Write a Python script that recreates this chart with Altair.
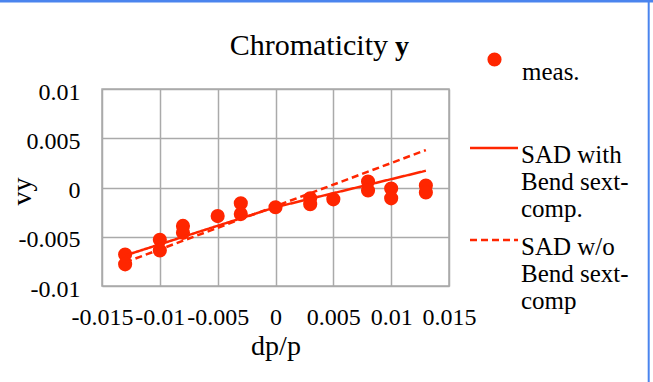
import altair as alt
import pandas as pd

# Measured vertical chromaticity vs momentum deviation
dp_meas = [-0.013, -0.013, -0.010, -0.010, -0.008, -0.008, -0.005, -0.003, -0.003,
           0.000, 0.003, 0.003, 0.005, 0.008, 0.008, 0.010, 0.010, 0.013, 0.013]
vy_meas = [-0.0068, -0.0078, -0.0053, -0.0064, -0.0039, -0.0046, -0.0029, -0.0016, -0.0027,
           -0.0020, -0.0011, -0.0017, -0.0012, 0.0006, -0.0003, -0.0001, -0.0011, 0.0002, -0.0005]

# SAD model curves
sad_with_dp = [-0.013, 0.000, 0.013]
sad_with_vy = [-0.0069, -0.0020, 0.0017]
sad_wo_dp = [-0.013, 0.013]
sad_wo_vy = [-0.0076, 0.0038]

x_ticks = [-0.015, -0.01, -0.005, 0, 0.005, 0.01, 0.015]
y_ticks = [-0.01, -0.005, 0, 0.005, 0.01]

MEAS = "meas."
WITH = "SAD with|Bend sext-|comp."
WO = "SAD w/o|Bend sext-|comp"

RED = "#ff2600"
GRID = "#aaaaaa"
FRAME = "#4a84ee"
FONT = "Liberation Serif"
W, H = 347, 197
PAD_L, PAD_T = 102, 89

meas = pd.DataFrame({"dp": dp_meas, "vy": vy_meas, "kind": [MEAS] * len(dp_meas)})
sad = pd.DataFrame({
    "dp": sad_with_dp + sad_wo_dp,
    "vy": sad_with_vy + sad_wo_vy,
    "model": [WITH] * len(sad_with_dp) + [WO] * len(sad_wo_dp),
})

tick_label = "toString(round(datum.value * 1000) / 1000)"

x_enc = alt.X(
    "dp:Q",
    scale=alt.Scale(domain=[-0.015, 0.015], nice=False, zero=False),
    axis=alt.Axis(
        values=x_ticks, labelExpr=tick_label, title="dp/p",
        labelFont=FONT, labelFontSize=24, labelColor="black", labelPadding=19,
        labelBaseline="top", labelOverlap=False, labelFlush=False,
        ticks=False, tickSize=0, domain=False,
        grid=True, gridColor=GRID, gridWidth=1.5, gridOpacity=1,
        titleFont=FONT, titleFontSize=28, titleFontWeight="normal", titleColor="black",
        titleBaseline="alphabetic", titleX=W / 2, titleY=68, titleAnchor="middle",
    ),
)
y_enc = alt.Y(
    "vy:Q",
    scale=alt.Scale(domain=[-0.01, 0.01], nice=False, zero=False),
    axis=alt.Axis(
        values=y_ticks, labelExpr=tick_label, title="vy",
        labelFont=FONT, labelFontSize=24, labelColor="black", labelPadding=22,
        labelOffset=3, labelOverlap=False, labelFlush=False,
        ticks=False, tickSize=0, domain=False,
        grid=True, gridColor=GRID, gridWidth=1.5, gridOpacity=1,
        titleFont=FONT, titleFontSize=28, titleFontWeight="normal", titleColor="black",
        titleAngle=-90, titleAlign="center", titleBaseline="middle",
        titleX=-80, titleY=102,
    ),
)

points = alt.Chart(meas).mark_circle(size=200, opacity=1).encode(
    x=x_enc,
    y=y_enc,
    color=alt.Color(
        "kind:N",
        scale=alt.Scale(domain=[MEAS], range=[RED]),
        legend=alt.Legend(
            title=None, orient="none", legendX=380, legendY=-42,
            symbolType="circle", symbolSize=200, symbolStrokeWidth=0,
            labelFont=FONT, labelFontSize=25, labelColor="black",
            labelOffset=15, labelBaseline="top", labelLimit=0,
        ),
    ),
)

# Line key: a small nominal symbol size keeps the rows compact, and the path
# itself is drawn wide (8 units x 6 px = 48 px) and level with the first text line.
lines = alt.Chart(sad).mark_line(color=RED, strokeWidth=2.5).encode(
    x="dp:Q",
    y="vy:Q",
    strokeDash=alt.StrokeDash(
        "model:N",
        scale=alt.Scale(domain=[WITH, WO], range=[[1, 0], [7, 4]]),
        legend=alt.Legend(
            title=None, orient="none", legendX=379.5, legendY=41.5,
            symbolType="M-4,0.83H4", symbolSize=144, symbolStrokeWidth=2.5,
            symbolStrokeColor=RED, rowPadding=0,
            labelFont=FONT, labelFontSize=25, labelColor="black",
            labelOffset=14.5, labelBaseline="top", labelLimit=0,
            labelExpr="split(datum.label, '|')",
        ),
    ),
)

one = pd.DataFrame({"t": ["Chromaticity"]})
title_main = alt.Chart(one).mark_text(
    font=FONT, fontSize=30, color="black", align="right", baseline="alphabetic"
).encode(text="t:N", x=alt.value(286), y=alt.value(-34))
title_y = alt.Chart(pd.DataFrame({"t": ["y"]})).mark_text(
    font=FONT, fontSize=28, fontWeight="bold", color="black", align="left", baseline="alphabetic"
).encode(text="t:N", x=alt.value(293), y=alt.value(-34))

# Blue frame along the top and right edges of the figure
frame_top = alt.Chart(one).mark_rule(color=FRAME, strokeWidth=2.5).encode(
    x=alt.value(-PAD_L), x2=alt.value(653 - PAD_L), y=alt.value(1.2 - PAD_T)
)
frame_right = alt.Chart(one).mark_rule(color=FRAME, strokeWidth=2).encode(
    x=alt.value(648.7 - PAD_L), y=alt.value(-PAD_T), y2=alt.value(382 - PAD_T)
)

chart = (
    alt.layer(points, lines, title_main, title_y, frame_top, frame_right)
    .resolve_legend(color="independent", strokeDash="independent")
    .properties(
        width=W, height=H,
        autosize=alt.AutoSizeParams(type="none"),
        padding={"left": PAD_L, "top": PAD_T, "right": 653 - PAD_L - W, "bottom": 382 - PAD_T - H},
        background="white",
    )
    .configure(style={"guide-label": {"lineHeight": 27}})
    .configure_view(stroke=GRID, strokeWidth=1.5)
)

chart.save("out.html", embed_options={"renderer": "svg", "actions": False})
